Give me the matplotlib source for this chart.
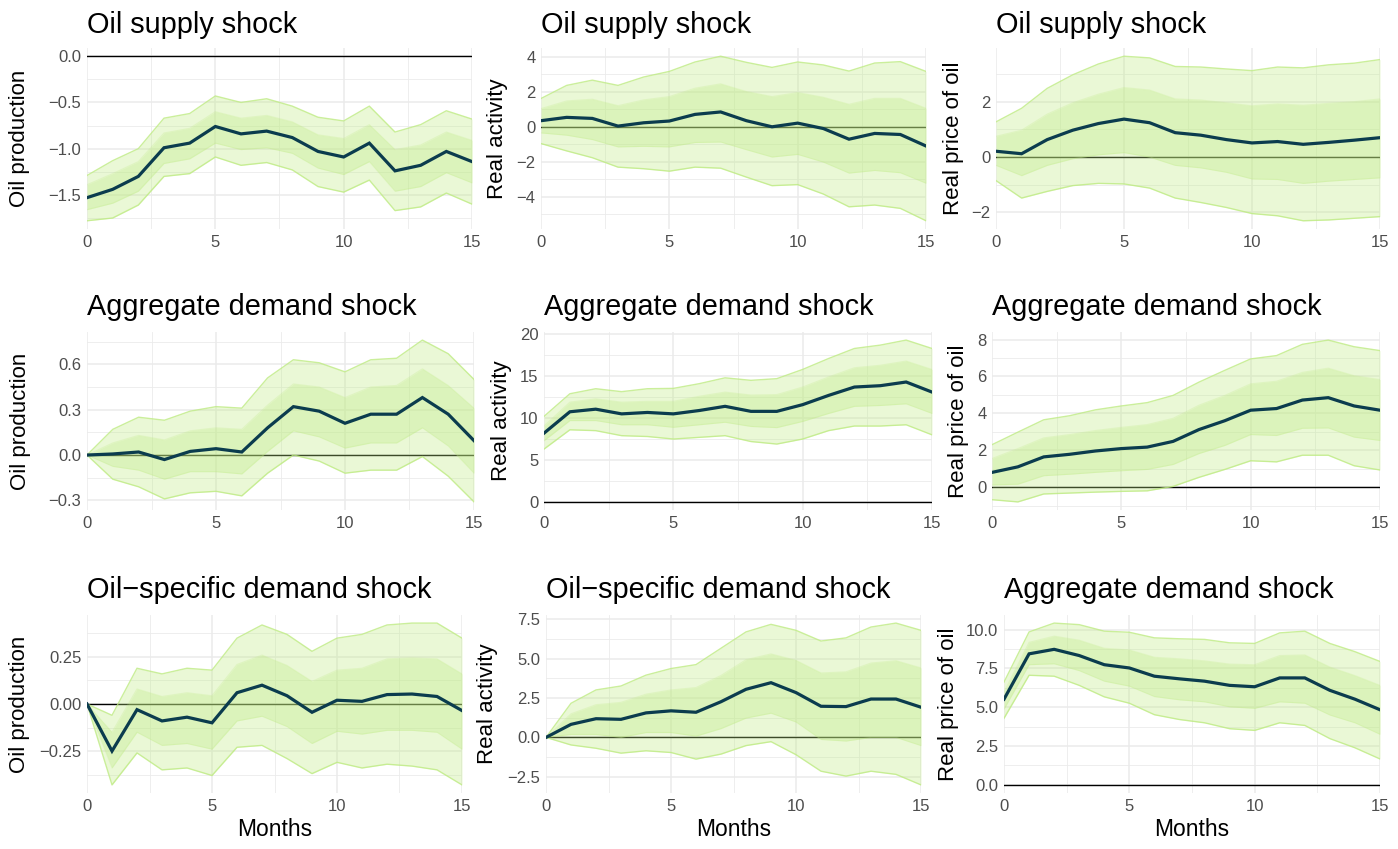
import numpy as np
import matplotlib
matplotlib.use("Agg")
import matplotlib.pyplot as plt
from matplotlib.ticker import FixedLocator

plt.rcParams['font.family'] = ['Liberation Sans', 'DejaVu Sans']

months = list(range(16))

titles = [
    ["Oil supply shock", "Oil supply shock", "Oil supply shock"],
    ["Aggregate demand shock", "Aggregate demand shock", "Aggregate demand shock"],
    ["Oil\u2212specific demand shock", "Oil\u2212specific demand shock", "Aggregate demand shock"],
]
ylabels = ["Oil production", "Real activity", "Real price of oil"]
xlabel = "Months"

# ---- Row 1: Oil supply shock ----
r1c1_mean = [-1.53, -1.44, -1.30, -0.99, -0.94, -0.76, -0.84, -0.81, -0.88, -1.03, -1.09, -0.94, -1.24, -1.18, -1.03, -1.14]
r1c1_in_lo = [-1.66, -1.59, -1.46, -1.16, -1.11, -0.94, -1.01, -0.99, -1.05, -1.21, -1.28, -1.14, -1.46, -1.41, -1.26, -1.37]
r1c1_in_hi = [-1.39, -1.27, -1.14, -0.83, -0.78, -0.60, -0.67, -0.64, -0.71, -0.85, -0.89, -0.74, -1.01, -0.96, -0.82, -0.91]
r1c1_out_lo = [-1.78, -1.75, -1.61, -1.30, -1.27, -1.09, -1.18, -1.15, -1.23, -1.41, -1.47, -1.34, -1.67, -1.63, -1.48, -1.60]
r1c1_out_hi = [-1.29, -1.13, -1.00, -0.67, -0.62, -0.43, -0.50, -0.46, -0.54, -0.66, -0.70, -0.54, -0.82, -0.74, -0.59, -0.68]

r1c2_mean = [0.35, 0.54, 0.48, 0.04, 0.23, 0.33, 0.71, 0.85, 0.35, 0.00, 0.21, -0.10, -0.71, -0.38, -0.44, -1.10]
r1c2_in_lo = [-0.35, -0.48, -0.73, -1.15, -1.12, -1.15, -0.90, -0.87, -1.31, -1.73, -1.58, -2.02, -2.65, -2.50, -2.63, -3.23]
r1c2_in_hi = [1.04, 1.48, 1.58, 1.21, 1.54, 1.73, 2.21, 2.46, 2.02, 1.73, 1.96, 1.69, 1.29, 1.63, 1.63, 1.06]
r1c2_out_lo = [-0.96, -1.38, -1.77, -2.31, -2.40, -2.54, -2.31, -2.37, -2.88, -3.37, -3.31, -3.85, -4.58, -4.48, -4.67, -5.38]
r1c2_out_hi = [1.62, 2.37, 2.67, 2.37, 2.85, 3.17, 3.71, 4.04, 3.69, 3.40, 3.71, 3.54, 3.19, 3.65, 3.73, 3.17]

r1c3_mean = [0.21, 0.12, 0.63, 0.97, 1.21, 1.37, 1.24, 0.88, 0.79, 0.63, 0.51, 0.56, 0.46, 0.53, 0.61, 0.70]
r1c3_in_lo = [-0.30, -0.67, -0.30, -0.06, 0.08, 0.16, 0.00, -0.30, -0.39, -0.55, -0.79, -0.81, -0.95, -0.87, -0.81, -0.75]
r1c3_in_hi = [0.75, 0.97, 1.55, 1.96, 2.27, 2.51, 2.42, 2.10, 2.06, 1.96, 1.85, 1.92, 1.87, 1.94, 2.00, 2.10]
r1c3_out_lo = [-0.85, -1.48, -1.24, -1.03, -0.95, -0.97, -1.12, -1.48, -1.64, -1.82, -2.04, -2.12, -2.30, -2.27, -2.21, -2.15]
r1c3_out_hi = [1.27, 1.76, 2.48, 2.97, 3.36, 3.64, 3.58, 3.27, 3.25, 3.18, 3.12, 3.25, 3.22, 3.33, 3.39, 3.52]

# ---- Row 2: Aggregate demand shock ----
r2c1_mean = [0.0, 0.007, 0.02, -0.03, 0.024, 0.042, 0.02, 0.18, 0.32, 0.29, 0.21, 0.27, 0.27, 0.38, 0.27, 0.095]
r2c1_in_lo = [0.0, -0.075, -0.10, -0.16, -0.11, -0.11, -0.125, 0.024, 0.16, 0.12, 0.046, 0.08, 0.08, 0.18, 0.06, -0.12]
r2c1_in_hi = [0.0, 0.08, 0.13, 0.10, 0.16, 0.18, 0.17, 0.33, 0.47, 0.45, 0.38, 0.45, 0.46, 0.57, 0.46, 0.31]
r2c1_out_lo = [0.0, -0.16, -0.21, -0.29, -0.25, -0.24, -0.27, -0.12, 0.0, -0.04, -0.12, -0.10, -0.10, -0.01, -0.14, -0.31]
r2c1_out_hi = [0.0, 0.17, 0.25, 0.23, 0.29, 0.32, 0.31, 0.51, 0.63, 0.61, 0.55, 0.63, 0.64, 0.76, 0.67, 0.50]

r2c2_mean = [8.2, 10.75, 11.06, 10.5, 10.67, 10.5, 10.9, 11.4, 10.8, 10.8, 11.6, 12.7, 13.7, 13.86, 14.3, 13.1]
r2c2_in_lo = [7.3, 9.7, 9.7, 9.2, 9.2, 8.9, 9.2, 9.5, 9.0, 8.86, 9.6, 10.55, 11.4, 11.5, 11.7, 10.55]
r2c2_in_hi = [9.05, 11.9, 12.3, 11.9, 12.0, 12.0, 12.6, 13.1, 12.75, 12.8, 13.7, 14.9, 16.0, 16.3, 16.8, 15.8]
r2c2_out_lo = [6.3, 8.6, 8.5, 7.9, 7.8, 7.5, 7.7, 7.9, 7.2, 6.9, 7.5, 8.5, 9.05, 9.05, 9.2, 8.0]
r2c2_out_hi = [10.2, 12.9, 13.5, 13.15, 13.5, 13.54, 14.1, 14.8, 14.5, 14.7, 15.8, 17.1, 18.3, 18.7, 19.3, 18.3]

r2c3_mean = [0.8, 1.1, 1.64, 1.78, 1.96, 2.09, 2.17, 2.48, 3.12, 3.6, 4.17, 4.26, 4.72, 4.85, 4.4, 4.17]
r2c3_in_lo = [0.12, 0.16, 0.62, 0.70, 0.80, 0.89, 0.96, 1.23, 1.82, 2.26, 2.85, 2.80, 3.19, 3.21, 2.71, 2.53]
r2c3_in_hi = [1.55, 2.09, 2.67, 2.85, 3.07, 3.24, 3.39, 3.73, 4.44, 4.97, 5.60, 5.74, 6.22, 6.45, 6.04, 5.83]
r2c3_out_lo = [-0.68, -0.80, -0.37, -0.32, -0.27, -0.23, -0.20, 0.04, 0.53, 0.96, 1.43, 1.37, 1.73, 1.73, 1.16, 0.93]
r2c3_out_hi = [2.30, 2.98, 3.65, 3.87, 4.19, 4.40, 4.58, 4.97, 5.69, 6.33, 6.95, 7.13, 7.74, 7.97, 7.61, 7.40]

# ---- Row 3 ----
r3c1_mean = [0.0, -0.25, -0.03, -0.09, -0.07, -0.10, 0.06, 0.10, 0.044, -0.044, 0.02, 0.014, 0.05, 0.053, 0.04, -0.035]
r3c1_in_lo = [0.0, -0.34, -0.15, -0.22, -0.21, -0.24, -0.09, -0.065, -0.12, -0.21, -0.145, -0.16, -0.14, -0.14, -0.15, -0.24]
r3c1_in_hi = [0.0, -0.15, 0.08, 0.04, 0.06, 0.044, 0.21, 0.26, 0.205, 0.12, 0.18, 0.19, 0.24, 0.245, 0.24, 0.16]
r3c1_out_lo = [0.0, -0.43, -0.26, -0.35, -0.34, -0.38, -0.23, -0.22, -0.29, -0.37, -0.31, -0.34, -0.32, -0.33, -0.35, -0.43]
r3c1_out_hi = [0.0, -0.06, 0.19, 0.16, 0.19, 0.18, 0.35, 0.42, 0.37, 0.28, 0.35, 0.37, 0.42, 0.43, 0.43, 0.35]

r3c2_mean = [0.0, 0.83, 1.19, 1.15, 1.56, 1.69, 1.60, 2.27, 3.06, 3.48, 2.85, 1.98, 1.96, 2.44, 2.44, 1.92]
r3c2_in_lo = [0.0, 0.19, 0.19, 0.0, 0.31, 0.31, 0.08, 0.56, 1.23, 1.54, 0.98, -0.13, -0.23, 0.0, 0.0, -0.52]
r3c2_in_hi = [0.0, 1.50, 2.08, 2.23, 2.75, 3.02, 3.17, 3.94, 4.94, 5.31, 4.90, 4.10, 4.17, 4.73, 4.88, 4.42]
r3c2_out_lo = [0.0, -0.48, -0.69, -1.00, -0.85, -0.96, -1.38, -1.06, -0.52, -0.27, -1.10, -2.15, -2.46, -2.15, -2.35, -3.02]
r3c2_out_hi = [0.0, 2.17, 3.02, 3.27, 3.96, 4.38, 4.63, 5.67, 6.71, 7.19, 6.81, 6.13, 6.33, 7.02, 7.27, 6.81]

r3c3_mean = [5.52, 8.44, 8.73, 8.33, 7.74, 7.53, 7.00, 6.83, 6.68, 6.41, 6.32, 6.89, 6.89, 6.09, 5.52, 4.84]
r3c3_in_lo = [4.88, 7.74, 7.80, 7.36, 6.68, 6.36, 5.69, 5.48, 5.35, 5.03, 4.93, 5.35, 5.26, 4.50, 4.00, 3.26]
r3c3_in_hi = [5.98, 9.18, 9.58, 9.32, 8.80, 8.69, 8.22, 8.12, 7.99, 7.78, 7.74, 8.33, 8.37, 7.59, 7.04, 6.41]
r3c3_out_lo = [4.29, 7.06, 7.00, 6.41, 5.67, 5.26, 4.52, 4.21, 4.00, 3.62, 3.51, 4.00, 3.83, 2.98, 2.39, 1.67]
r3c3_out_hi = [6.62, 9.85, 10.42, 10.32, 9.90, 9.83, 9.47, 9.41, 9.37, 9.15, 9.11, 9.79, 9.90, 9.11, 8.58, 7.95]

series = [
    [(r1c1_mean, r1c1_in_lo, r1c1_in_hi, r1c1_out_lo, r1c1_out_hi),
     (r1c2_mean, r1c2_in_lo, r1c2_in_hi, r1c2_out_lo, r1c2_out_hi),
     (r1c3_mean, r1c3_in_lo, r1c3_in_hi, r1c3_out_lo, r1c3_out_hi)],
    [(r2c1_mean, r2c1_in_lo, r2c1_in_hi, r2c1_out_lo, r2c1_out_hi),
     (r2c2_mean, r2c2_in_lo, r2c2_in_hi, r2c2_out_lo, r2c2_out_hi),
     (r2c3_mean, r2c3_in_lo, r2c3_in_hi, r2c3_out_lo, r2c3_out_hi)],
    [(r3c1_mean, r3c1_in_lo, r3c1_in_hi, r3c1_out_lo, r3c1_out_hi),
     (r3c2_mean, r3c2_in_lo, r3c2_in_hi, r3c2_out_lo, r3c2_out_hi),
     (r3c3_mean, r3c3_in_lo, r3c3_in_hi, r3c3_out_lo, r3c3_out_hi)],
]

yticks = [
    [[-1.5, -1.0, -0.5, 0.0], [-4, -2, 0, 2, 4], [-2, 0, 2]],
    [[-0.3, 0.0, 0.3, 0.6], [0, 5, 10, 15, 20], [0, 2, 4, 6, 8]],
    [[-0.25, 0.0, 0.25], [-2.5, 0.0, 2.5, 5.0, 7.5], [0.0, 2.5, 5.0, 7.5, 10.0]],
]
ytick_fmt = [
    ["{:.1f}", "{:.0f}", "{:.0f}"],
    ["{:.1f}", "{:.0f}", "{:.0f}"],
    ["{:.2f}", "{:.1f}", "{:.1f}"],
]
xticks = [0, 5, 10, 15]

# layout in pixels (left, top, right, bottom)
W, H = 1398, 849
boxes = [
    [(87, 48, 472, 229), (541, 48, 926, 229), (996, 48, 1380, 229)],
    [(87, 332, 474, 510), (544, 332, 932, 510), (992, 332, 1380, 510)],
    [(87, 615, 462, 793), (546, 615, 921, 793), (1004, 615, 1380, 793)],
]
ylab_x = [[20, 498, 953], [21, 502, 958], [20, 488, 948]]
title_gap = [15, 17, 17]

FILL = (190/255, 235/255, 130/255)
LINE = "#0B3C4E"
TICKC = "#4D4D4D"

fig = plt.figure(figsize=(W/100, H/100), dpi=100)
fig.patch.set_facecolor("white")

for r in range(3):
    for c in range(3):
        l, t, rr, b = boxes[r][c]
        ax = fig.add_axes([l/W, 1 - b/H, (rr - l)/W, (b - t)/H])
        mean, ilo, ihi, olo, ohi = [np.array(v, dtype=float) for v in series[r][c]]
        x = np.array(months)
        ax.axhline(0, color="black", lw=1.0, zorder=2)
        ax.fill_between(x, olo, ohi, color=FILL, alpha=0.32, lw=0, zorder=3)
        ax.plot(x, olo, color=FILL, alpha=0.8, lw=1.0, zorder=3)
        ax.plot(x, ohi, color=FILL, alpha=0.8, lw=1.0, zorder=3)
        ax.fill_between(x, ilo, ihi, color=FILL, alpha=0.32, lw=0, zorder=4)
        ax.plot(x, ilo, color=FILL, alpha=0.25, lw=0.8, zorder=4)
        ax.plot(x, ihi, color=FILL, alpha=0.25, lw=0.8, zorder=4)
        ax.plot(x, mean, color=LINE, lw=2.3, zorder=5, solid_joinstyle="miter")

        lo = min(olo.min(), 0.0)
        hi = max(ohi.max(), 0.0)
        pad = (hi - lo) * 0.05
        ax.set_ylim(lo - pad, hi + pad)
        ax.set_xlim(0, 15)

        yt = yticks[r][c]
        ax.yaxis.set_major_locator(FixedLocator(yt))
        step = yt[1] - yt[0]
        minors = [v + step / 2 for v in ([yt[0] - step] + yt)]
        ax.yaxis.set_minor_locator(FixedLocator(minors))
        ax.set_yticklabels([ytick_fmt[r][c].format(v).replace("-", "\u2212") for v in yt])
        ax.xaxis.set_major_locator(FixedLocator(xticks))
        ax.xaxis.set_minor_locator(FixedLocator([2.5, 7.5, 12.5]))
        ax.set_xticklabels([str(v) for v in xticks])

        ax.grid(True, which="major", color="#EBEBEB", lw=1.1, zorder=0)
        ax.grid(True, which="minor", color="#EBEBEB", lw=0.6, zorder=0)
        ax.set_axisbelow(True)
        for s in ax.spines.values():
            s.set_visible(False)
        ax.tick_params(which="both", length=0, labelsize=12, colors=TICKC, pad=4)
        ax.set_facecolor("white")

        ax.annotate(titles[r][c], xy=(0, 1), xycoords="axes fraction",
                    xytext=(0, title_gap[r]), textcoords="offset pixels",
                    ha="left", va="baseline", fontsize=20.8, color="black")
        yc = (t + b) / 2
        fig.text(ylab_x[r][c] / W, 1 - yc / H, ylabels[c], rotation=90,
                 ha="center", va="center", fontsize=16, color="black")
        if r == 2:
            xc = (l + rr) / 2
            fig.text(xc / W, 1 - 830 / H, xlabel, ha="center", va="center",
                     fontsize=16.5, color="black")

fig.savefig("out.png", dpi=100)
